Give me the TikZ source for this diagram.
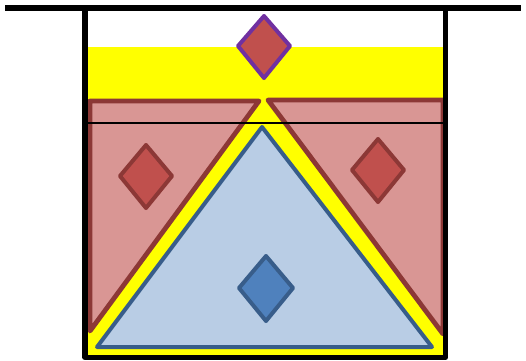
\documentclass[tikz,border=0pt]{standalone}
\usepackage{xcolor}
\usepackage{tikz}
\definecolor{amarillo}{RGB}{255,255,0}
\definecolor{rosa}{RGB}{217,150,148}
\definecolor{rojoborde}{RGB}{140,56,54}
\definecolor{rojo}{RGB}{192,80,77}
\definecolor{morado}{RGB}{112,48,160}
\definecolor{celeste}{RGB}{185,205,229}
\definecolor{azulborde}{RGB}{56,93,138}
\definecolor{azul}{RGB}{79,129,189}
\begin{document}
\begin{tikzpicture}[x=0.75pt, y=-0.75pt, line join=round,
    pared/.style={line width=3.9pt, black},
    cuna/.style={fill=rosa, draw=rojoborde, line width=3.6pt},
    bloque/.style={fill=celeste, draw=azulborde, line width=3pt},
    rombo/.style={fill=rojo, draw=rojoborde, line width=3pt}]
    \useasboundingbox (0,0) rectangle (526,361);
    \fill[amarillo] (88,47) rectangle (443,356);
    \draw[cuna] (90,101)--(259,101)--(90,331)--cycle;
    \draw[cuna] (268,100)--(443,100)--(443,334)--cycle;
    \draw[bloque] (262,127)--(432,347)--(97,347)--cycle;
    \draw[rombo,draw=morado] (264,16)--(290,46)--(264,78)--(238,46)--cycle;
    \draw[rombo] (146,145)--(172,176)--(146,208)--(120,176)--cycle;
    \draw[rombo] (378,139)--(404,170)--(378,202)--(352,170)--cycle;
    \draw[rombo,fill=azul,draw=azulborde] (266,256)--(293,288)--(266,321)--(239,288)--cycle;
    \draw[line width=1.5pt] (83,123)--(444,123);
    \draw[pared] (5,8)--(521,8);
    \draw[pared] (85,8)--(85,357.5)--(445.5,357.5)--(445.5,8);
\end{tikzpicture}
\end{document}
